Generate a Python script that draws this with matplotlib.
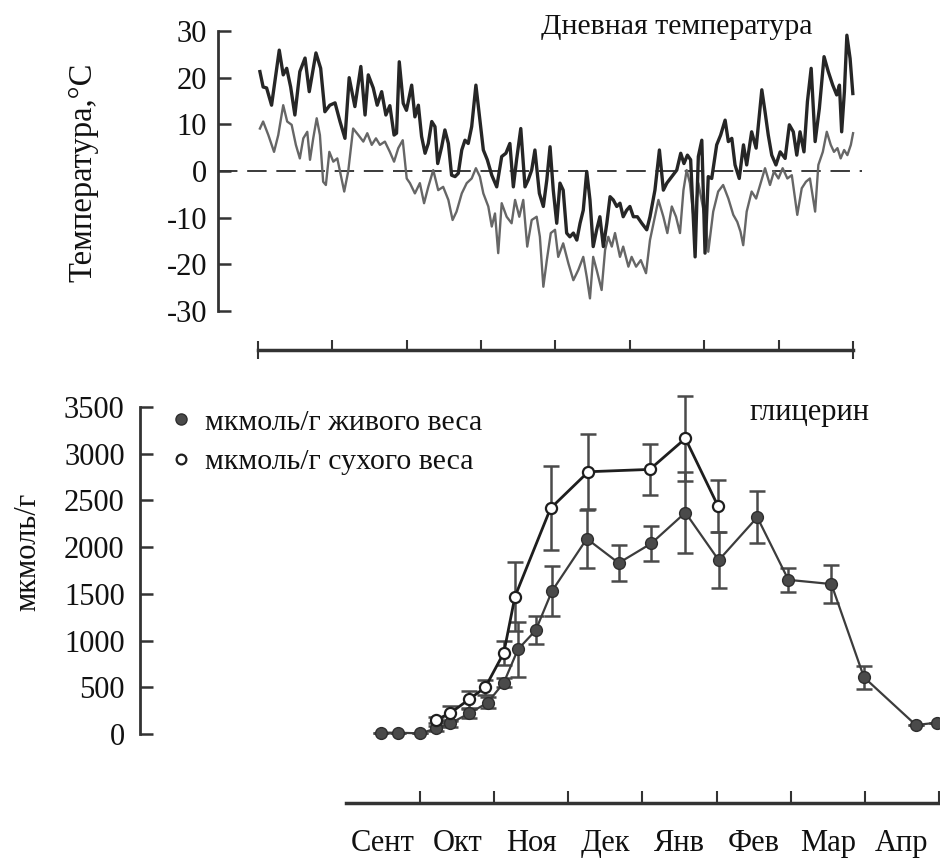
import matplotlib
matplotlib.use("Agg")
import matplotlib.pyplot as plt
from matplotlib.lines import Line2D

plt.rcParams['font.family'] = ['Liberation Serif', 'DejaVu Serif']

# ---------------- Top panel: daily temperature ----------------
# day of season (0 = start of September), temperature in C
tmax_day = [0.8, 2.1, 3.5, 5.5, 8.6, 10.2, 11.6, 13.2, 14.9, 16.9, 19.0, 20.7, 23.4, 25.3, 27.0,
            29.0, 31.1, 33.1, 35.1, 36.8, 39.1, 41.5, 43.2, 44.5, 46.5, 48.1, 49.9, 51.6, 53.2,
            54.9, 55.9, 57.0, 58.6, 59.9, 62.0, 63.3, 64.7, 66.0, 67.4, 68.7, 70.1, 71.4, 72.5,
            74.1, 75.4, 76.8, 78.1, 79.5, 80.8, 82.2, 83.5, 84.8, 86.2, 87.9, 89.5, 90.9, 92.5,
            94.3, 96.3, 98.3, 100.0, 101.6, 103.0, 104.3, 106.0, 107.7, 109.0, 110.4, 111.7,
            113.5, 115.1, 116.5, 117.8, 119.1, 120.5, 121.8, 123.1, 124.5, 125.8, 127.2, 128.6,
            129.9, 131.2, 132.6, 133.9, 135.2, 136.6, 137.9, 139.3, 140.7, 142.0, 143.3, 144.7,
            146.0, 147.3, 148.7, 150.0, 151.4, 153.0, 154.8, 156.8, 158.1, 160.1, 161.9, 163.5,
            164.9, 166.9, 168.9, 170.5, 171.8, 173.2, 174.5, 176.3, 177.6, 179.0, 180.3, 181.6,
            183.0, 185.0, 186.6, 188.4, 189.7, 191.1, 192.4, 194.1, 195.8, 197.1, 199.1, 200.9,
            203.2, 204.5, 205.8, 207.2, 208.9, 210.6, 212.6, 214.3, 215.9, 217.3, 218.6, 220.2,
            221.6, 223.1, 224.7, 226.4, 228.3, 230.0, 231.8, 233.4, 234.5, 235.4, 236.5, 237.5,
            238.8, 239.9]
tmax_val = [21.3, 18.0, 17.8, 14.1, 25.9, 20.6, 22.0, 18.0, 12.0, 21.3, 24.2, 17.0, 25.3, 22.0, 12.7,
            14.1, 14.6, 10.6, 7.0, 20.0, 13.8, 22.4, 12.0, 20.6, 17.8, 14.1, 17.0, 12.0, 14.0,
            7.7, 8.1, 23.4, 14.5, 13.0, 18.4, 11.6, 14.1, 7.4, 3.8, 5.9, 10.6, 9.5, 1.6,
            5.2, 8.8, 5.9, -0.9, -1.2, -0.5, 4.5, 6.6, 5.9, 9.5, 18.4, 10.9, 4.5, 2.4,
            -0.9, -3.4, 3.1, 3.8, 5.9, -3.4, 2.4, 9.1, -3.4, -1.9, 0.2, 4.5,
            -4.8, -7.6, -1.9, 5.2, -4.1, -11.2, -2.6, -4.1, -13.3, -14.1, -13.3, -14.8,
            -11.2, -8.4, -0.1, -6.2, -16.2, -12.6, -9.8, -16.2, -11.2, -5.5, -6.2, -7.6,
            -6.9, -9.8, -8.4, -7.6, -9.8, -9.8, -11.2, -12.6, -9.8, -4.1, 4.5, -4.1,
            -2.6, -1.2, 0.2, 3.8, 1.6, 3.4, 2.4, -18.4, 3.1, 6.6, -17.6, -1.2,
            -1.6, 5.6, 7.7, 10.9, 6.3, 7.0, 1.3, -1.6, 5.6, 1.3, 8.4, 4.9,
            17.4, 12.7, 7.7, 3.4, 1.3, 4.1, 2.7, 9.9, 8.4, 3.4, 8.4, 4.1,
            14.9, 22.0, 6.3, 13.4, 24.5, 21.3, 18.4, 16.3, 18.4, 8.4, 17.0, 29.1,
            24.1, 16.6]

tmin_day = [0.8, 2.1, 4.2, 6.5, 8.2, 10.2, 11.8, 13.6, 15.3, 16.9, 18.3, 19.9, 21.0, 22.3, 23.7,
            25.0, 26.3, 27.4, 28.8, 30.4, 32.0, 33.4, 34.8, 36.4, 38.4, 40.5, 42.5, 44.1, 45.9,
            47.6, 49.2, 51.2, 53.2, 54.9, 56.6, 58.4, 60.0, 61.3, 63.3, 65.3, 67.0, 68.7, 70.7,
            72.7, 74.7, 76.8, 78.5, 80.1, 82.2, 84.2, 86.2, 87.9, 89.5, 90.9, 92.9, 94.3, 95.6,
            96.9, 98.3, 100.3, 102.3, 103.7, 105.4, 107.0, 108.6, 110.4, 112.4, 113.7, 115.1,
            116.5, 118.1, 119.8, 121.1, 123.1, 125.2, 127.2, 129.2, 131.2, 132.6, 133.9, 135.2,
            136.6, 138.6, 140.0, 141.3, 142.7, 144.0, 146.0, 147.3, 149.4, 150.7, 152.5, 154.4,
            156.5, 158.1, 160.1, 161.5, 163.5, 165.1, 166.9, 168.6, 170.2, 171.6, 172.9, 174.2,
            175.9, 177.6, 179.4, 180.7, 181.6, 183.6, 185.6, 187.6, 189.7, 191.7, 193.3, 194.6,
            195.7, 197.1, 199.1, 200.9, 202.5, 204.5, 206.5, 208.1, 209.9, 211.6, 213.5, 215.3,
            216.6, 217.5, 219.3, 221.0, 222.6, 224.7, 226.0, 227.8, 229.4, 231.0, 232.3, 233.7,
            235.0, 236.4, 237.7, 239.1, 240.0]
tmin_val = [9.1, 10.6, 7.7, 4.1, 7.7, 14.1, 10.6, 9.9, 5.6, 2.7, 7.0, 8.4, 2.4, 7.0, 11.3,
            7.7, -2.3, -3.0, 4.1, 2.0, 2.7, -0.9, -4.4, -0.1, 9.1, 7.7, 6.3, 8.1, 5.6,
            7.0, 5.6, 6.3, 4.1, 2.0, 4.9, 6.6, -1.6, -2.6, -4.8, -2.6, -6.9, -3.4, 0.2,
            -4.1, -3.4, -6.2, -10.5, -8.7, -4.8, -2.6, -1.6, 0.6, -1.2, -4.8, -7.6, -11.9, -9.1,
            -17.6, -6.9, -9.8, -11.2, -6.2, -9.8, -6.2, -16.2, -10.5, -9.8, -14.1, -24.8,
            -19.1, -13.3, -12.6, -18.4, -15.5, -19.8, -23.4, -21.2, -18.4, -22.7, -27.3, -18.4,
            -21.2, -25.5, -16.9, -14.1, -16.2, -13.3, -18.4, -16.2, -20.5, -18.4, -20.5, -19.1,
            -21.9, -14.8, -9.8, -6.2, -9.8, -13.3, -7.6, -9.8, -13.3, -4.1, 0.2, -2.6,
            -11.2, -2.6, -7.6, -11.4, -17.3, -8.7, -4.4, -3.0, -5.9, -9.4, -10.9, -13.0,
            -15.9, -8.7, -4.4, -5.9, -3.0, 0.6, -3.0, -0.1, -1.6, 0.6, -1.6, -0.9,
            -5.9, -9.4, -3.7, -2.3, -1.6, -8.7, 1.3, 4.1, 8.4, 5.6, 4.1, 4.9,
            2.7, 4.5, 3.4, 5.6, 8.1]

temp_yticks = [-30, -20, -10, 0, 10, 20, 30]

# ---------------- Bottom panel: glycerol ----------------
months = ['Сент', 'Окт', 'Ноя', 'Дек', 'Янв', 'Фев', 'Мар', 'Апр']

wet_x = [0.47, 0.70, 1.00, 1.22, 1.41, 1.66, 1.91, 2.13, 2.32, 2.56, 2.78, 3.25, 3.68, 4.12,
         4.58, 5.03, 5.55, 5.97, 6.55, 6.99, 7.69, 7.97]
wet_y = [14, 14, 7, 60, 115, 220, 335, 550, 905, 1110, 1530, 2090, 1830, 2040,
         2370, 1860, 2320, 1650, 1605, 607, 96, 121]
wet_err = [0, 0, 0, 30, 40, 50, 60, 50, 295, 150, 270, 310, 190, 190,
           430, 300, 280, 130, 200, 120, 0, 0]

dry_x = [1.21, 1.40, 1.66, 1.88, 2.13, 2.28, 2.76, 3.27, 4.10, 4.58, 5.02]
dry_y = [150, 220, 370, 500, 870, 1470, 2415, 2807, 2832, 3163, 2440]
dry_err = [30, 80, 90, 80, 130, 370, 450, 400, 270, 460, 280]

gly_yticks = [0, 500, 1000, 1500, 2000, 2500, 3000, 3500]

W, H = 940, 859
TXT = '#111111'
fig = plt.figure(figsize=(W / 100, H / 100), dpi=100)


def fx(px):
    return px / W


def fy(py):
    return 1 - py / H


# ---- top axes
ax1 = fig.add_axes([fx(218), fy(311), (862 - 218) / W, (311 - 31) / H])
ax1.set_xlim(-16.1, 243.6)
ax1.set_ylim(-30, 30)
ax1.plot(tmin_day, tmin_val, color='#666666', lw=1.7, zorder=2)
ax1.plot(tmax_day, tmax_val, color='#262626', lw=2.4, zorder=3)
ax1.axhline(0, color='#3a3a3a', lw=1.4, dashes=(10, 5), zorder=1)
for s in ['top', 'right']:
    ax1.spines[s].set_visible(False)
ax1.spines['left'].set_linewidth(2)
ax1.spines['left'].set_color('#333333')
ax1.spines['bottom'].set_position(('outward', 28.1))
ax1.spines['bottom'].set_bounds(0, 240)
ax1.spines['bottom'].set_linewidth(2.5)
ax1.spines['bottom'].set_color('#333333')
ax1.set_yticks(temp_yticks)
ax1.set_yticklabels([str(v) for v in temp_yticks])
ax1.tick_params(axis='y', direction='in', length=9, width=1.8, color='#333333',
                labelsize=22, pad=8, labelcolor=TXT)
ax1.set_xticks([30, 60, 90, 120, 150, 180, 210])
ax1.set_xticks([0, 240], minor=True)
ax1.tick_params(axis='x', which='major', direction='in', length=7, width=1.5,
                color='#333333', labelbottom=False)
ax1.tick_params(axis='x', which='minor', direction='inout', length=13, width=1.5,
                color='#333333', labelbottom=False)
fig.text(fx(83), fy(172), 'Температура,°С', rotation=90, ha='center', va='center',
         fontsize=23.5, color=TXT)
fig.text(fx(677), fy(27), 'Дневная температура', ha='center', va='center',
         fontsize=21.5, color=TXT)

# ---- bottom axes
ax2 = fig.add_axes([fx(140), fy(734), 800 / W, (734 - 407) / H])
ax2.set_xlim(-2.78, 8.016)
ax2.set_ylim(0, 3500)
ax2.errorbar(wet_x, wet_y, yerr=wet_err, fmt='none', ecolor='#4a4a4a', elinewidth=1.8,
             capsize=5.5, capthick=1.8, zorder=2, clip_on=False)
ax2.errorbar(dry_x, dry_y, yerr=dry_err, fmt='none', ecolor='#4a4a4a', elinewidth=1.8,
             capsize=5.5, capthick=1.8, zorder=2, clip_on=False)
ax2.plot(wet_x, wet_y, color='#3c3c3c', lw=1.6, marker='o', ms=8.5,
         mfc='#4a4a4a', mec='#2e2e2e', mew=1, zorder=3, clip_on=False)
ax2.plot(dry_x, dry_y, color='#1e1e1e', lw=2.0, marker='o', ms=8,
         mfc='white', mec='#1e1e1e', mew=1.6, zorder=4, clip_on=False)
for s in ['top', 'right']:
    ax2.spines[s].set_visible(False)
ax2.spines['left'].set_linewidth(2)
ax2.spines['left'].set_color('#333333')
ax2.spines['bottom'].set_position(('outward', 49.7))
ax2.spines['bottom'].set_bounds(0, 8)
ax2.spines['bottom'].set_linewidth(2.5)
ax2.spines['bottom'].set_color('#333333')
ax2.set_yticks(gly_yticks)
ax2.set_yticklabels([str(v) for v in gly_yticks])
ax2.set_yticks([0, 3500], minor=True)
ax2.tick_params(axis='y', which='major', direction='in', length=9, width=1.8,
                color='#333333', labelsize=22, pad=11, labelcolor=TXT)
ax2.tick_params(axis='y', which='minor', direction='in', length=18, width=1.8,
                color='#333333')
ax2.set_xticks([0.5, 1.5, 2.5, 3.5, 4.5, 5.5, 6.5, 7.5])
ax2.set_xticklabels(months)
ax2.set_xticks([1, 2, 3, 4, 5, 6, 7, 8], minor=True)
ax2.tick_params(axis='x', which='major', length=0, labelsize=22, pad=19,
                labelcolor=TXT)
ax2.tick_params(axis='x', which='minor', direction='in', length=9, width=1.5,
                color='#333333')
fig.text(fx(28), fy(552), 'мкмоль/г', rotation=90, ha='center', va='center',
         fontsize=22, color=TXT)
fig.text(fx(809), fy(412), 'глицерин', ha='center', va='center',
         fontsize=22, color=TXT)

handles = [Line2D([], [], ls='none', marker='o', ms=8, mfc='#4a4a4a', mec='#2e2e2e'),
           Line2D([], [], ls='none', marker='o', ms=7, mfc='white', mec='#1e1e1e', mew=1.6)]
ax2.legend(handles, ['мкмоль/г живого веса', 'мкмоль/г сухого веса'],
           loc='upper left', bbox_to_anchor=(fx(171), fy(409)), bbox_transform=fig.transFigure,
           frameon=False, fontsize=21.5, handlelength=0.7, handletextpad=0.45,
           labelspacing=0.42, borderpad=0, borderaxespad=0, labelcolor=TXT)

fig.savefig('out.png', dpi=100)
